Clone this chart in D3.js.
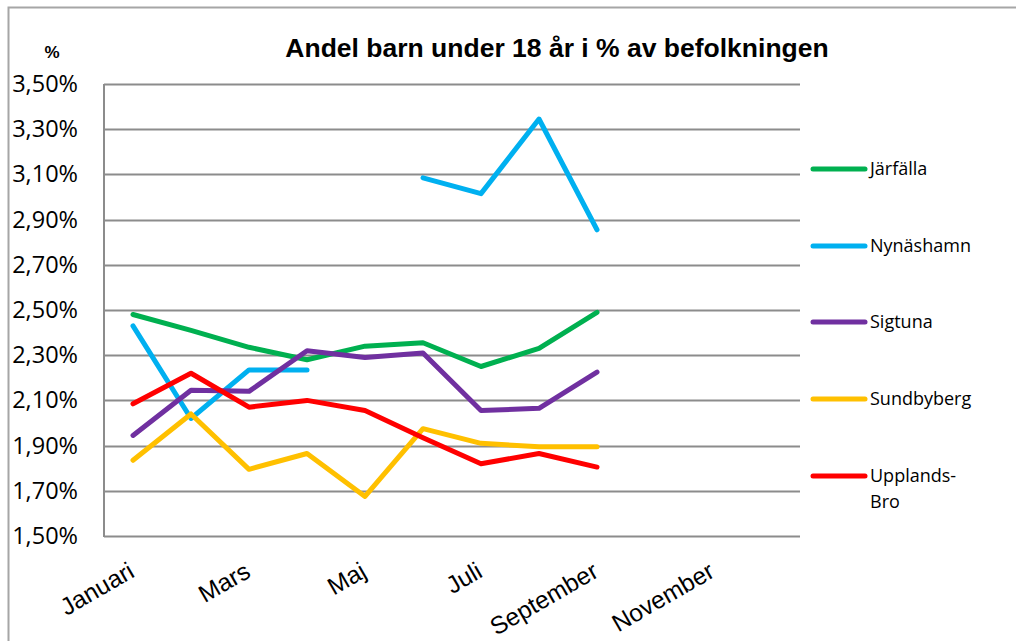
<!DOCTYPE html>
<html>
<head>
<meta charset="utf-8">
<script src="https://cdn.jsdelivr.net/npm/d3@7"></script>
<style>
  body { margin: 0; background: #fff; }
  svg { display: block; }
</style>
</head>
<body>
<svg id="chart"></svg>
<script>
// months (x categories)
var months = ["Januari", "Februari", "Mars", "April", "Maj", "Juni", "Juli",
              "Augusti", "September", "Oktober", "November", "December"];
var monthLabels = ["Januari", "Mars", "Maj", "Juli", "September", "November"];

// series, values in %; null = no value
var jarfalla    = [2.48, 2.41, 2.335, 2.28, 2.34, 2.355, 2.25, 2.33, 2.49];
var nynashamn   = [2.43, 2.02, 2.235, 2.235, null, 3.085, 3.015, 3.345, 2.855];
var sigtuna     = [1.945, 2.145, 2.14, 2.32, 2.29, 2.31, 2.055, 2.065, 2.225];
var sundbyberg  = [1.835, 2.04, 1.795, 1.865, 1.675, 1.975, 1.91, 1.895, 1.895];
var upplandsBro = [2.085, 2.22, 2.07, 2.1, 2.055, 1.935, 1.82, 1.865, 1.805];

var seriesNames  = ["Järfälla", "Nynäshamn", "Sigtuna", "Sundbyberg", "Upplands-Bro"];
var seriesColors = ["#00b050", "#00b0f0", "#7030a0", "#ffc000", "#ff0000"];
var seriesValues = [jarfalla, nynashamn, sigtuna, sundbyberg, upplandsBro];

var yTicks = [1.5, 1.7, 1.9, 2.1, 2.3, 2.5, 2.7, 2.9, 3.1, 3.3, 3.5];

var width = 1016, height = 641;
var svg = d3.select("#chart").attr("width", width).attr("height", height);

// outer frame
svg.append("path")
   .attr("d", "M8.5," + height + "V7.5H" + width)
   .attr("fill", "none").attr("stroke", "#a6a6a6").attr("stroke-width", 2);

var plotLeft = 104, plotRight = 800, plotTop = 84, plotBottom = 536;

var x = d3.scaleBand().domain(months).range([plotLeft, plotRight]);
var y = d3.scaleLinear().domain([1.5, 3.5]).range([plotBottom, plotTop]);

// gridlines
svg.append("g").selectAll("line")
   .data(yTicks.slice(1))
   .enter().append("line")
   .attr("x1", plotLeft).attr("x2", plotRight)
   .attr("y1", function(d) { return Math.round(y(d)) + 0.5; })
   .attr("y2", function(d) { return Math.round(y(d)) + 0.5; })
   .attr("stroke", "#8c8c8c").attr("stroke-width", 2);

// axes lines
svg.append("line").attr("x1", plotLeft).attr("x2", plotLeft).attr("y1", plotTop).attr("y2", plotBottom + 1)
   .attr("stroke", "#8c8c8c").attr("stroke-width", 2);
svg.append("line").attr("x1", plotLeft).attr("x2", plotRight).attr("y1", plotBottom + 0.5).attr("y2", plotBottom + 0.5)
   .attr("stroke", "#8c8c8c").attr("stroke-width", 2);

// y tick labels
svg.append("g").selectAll("text")
   .data(yTicks)
   .enter().append("text")
   .attr("x", 78)
   .attr("y", function(d) { return y(d) + 8; })
   .attr("text-anchor", "end")
   .attr("font-family", "Open Sans, sans-serif")
   .attr("font-size", 23.5)
   .attr("fill", "#000")
   .text(function(d) { return d3.format(".2f")(d).replace(".", ",") + "%"; });

svg.append("text")
   .attr("x", 52).attr("y", 58)
   .attr("text-anchor", "middle")
   .attr("font-family", "Liberation Sans, Arial, sans-serif")
   .attr("font-weight", "bold")
   .attr("font-size", 17)
   .text("%");

// title
svg.append("text")
   .attr("x", 557).attr("y", 57)
   .attr("text-anchor", "middle")
   .attr("font-family", "Liberation Sans, Arial, sans-serif")
   .attr("font-weight", "bold")
   .attr("font-size", 26.5)
   .text("Andel barn under 18 år i % av befolkningen");

// x labels
svg.append("g").selectAll("text")
   .data(monthLabels)
   .enter().append("text")
   .attr("transform", function(d) {
     return "translate(" + (x(d) + x.bandwidth() / 2 + 3) + "," + 576 + ") rotate(-30)";
   })
   .attr("text-anchor", "end")
   .attr("font-family", "Liberation Sans, Arial, sans-serif")
   .attr("font-size", 24.5)
   .text(function(d) { return d; });

// lines
var line = d3.line()
  .defined(function(d) { return d !== null; })
  .x(function(d, i) { return x(months[i]) + x.bandwidth() / 2; })
  .y(function(d) { return y(d); });

svg.append("g").selectAll("path")
   .data(seriesValues)
   .enter().append("path")
   .attr("d", function(d) { return line(d); })
   .attr("fill", "none")
   .attr("stroke", function(d, i) { return seriesColors[i]; })
   .attr("stroke-width", 5)
   .attr("stroke-linecap", "round")
   .attr("stroke-linejoin", "round");

// legend
var legendY = [169, 246, 322, 399, 476];
var legend = svg.append("g").selectAll("g")
   .data(seriesNames)
   .enter().append("g")
   .attr("transform", function(d, i) { return "translate(0," + legendY[i] + ")"; });

legend.append("line")
   .attr("x1", 813).attr("x2", 865)
   .attr("stroke", function(d, i) { return seriesColors[i]; })
   .attr("stroke-width", 5)
   .attr("stroke-linecap", "round");

legend.append("text")
   .attr("x", 870).attr("y", 6)
   .attr("font-family", "Open Sans, sans-serif")
   .attr("font-size", 18)
   .each(function(d) {
     var parts = d === "Upplands-Bro" ? ["Upplands-", "Bro"] : [d];
     var t = d3.select(this);
     parts.forEach(function(p, j) {
       t.append("tspan").attr("x", 870).attr("dy", j === 0 ? 0 : 26).text(p);
     });
   });
</script>
</body>
</html>
